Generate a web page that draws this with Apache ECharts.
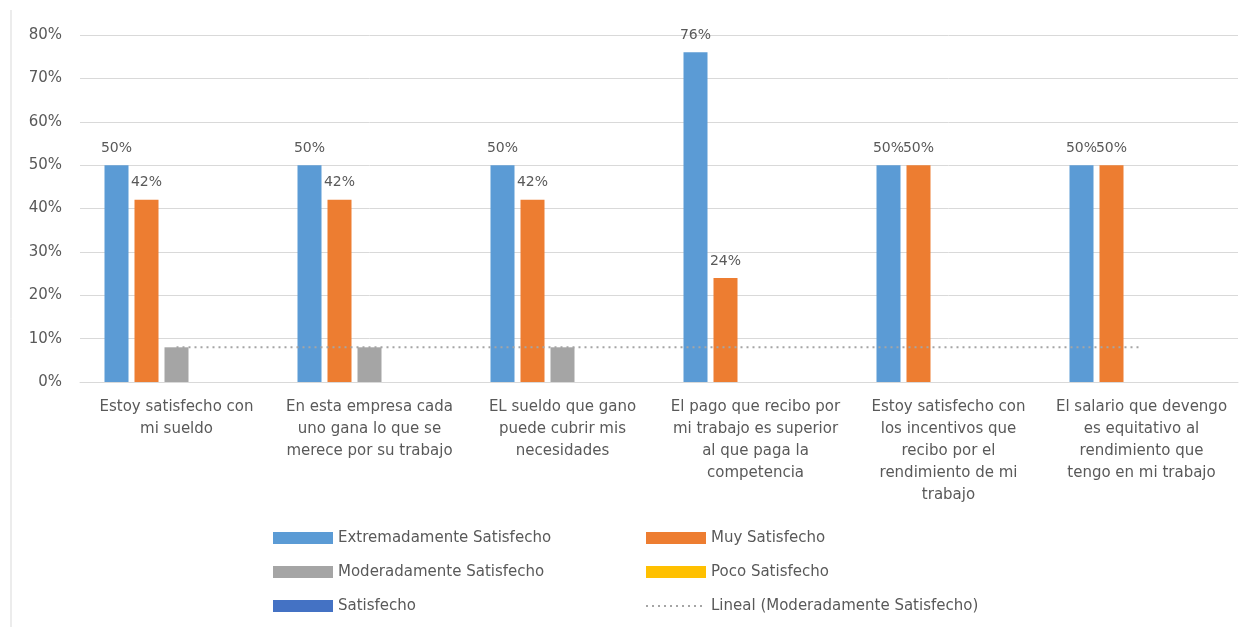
<!DOCTYPE html>
<html>
<head>
<meta charset="utf-8">
<script src="https://cdn.jsdelivr.net/npm/echarts@6/dist/echarts.min.js"></script>
<style>
  html, body { margin: 0; padding: 0; background: #fff; }
  #chart { width: 1246px; height: 627px; }
</style>
</head>
<body>
<div id="chart"></div>
<script>
// Survey items (x-axis categories)
const categories = [
  'Estoy satisfecho con\nmi sueldo',
  'En esta empresa cada\nuno gana lo que se\nmerece por su trabajo',
  'EL sueldo que gano\npuede cubrir mis\nnecesidades',
  'El pago que recibo por\nmi trabajo es superior\nal que paga la\ncompetencia',
  'Estoy satisfecho con\nlos incentivos que\nrecibo por el\nrendimiento de mi\ntrabajo',
  'El salario que devengo\nes equitativo al\nrendimiento que\ntengo en mi trabajo'
];

// Percent of responses per satisfaction level
const extremadamente = [50, 50, 50, 76, 50, 50];
const muy = [42, 42, 42, 24, 50, 50];
const moderadamente = [8, 8, 8, null, null, null];
const poco = [null, null, null, null, null, null];
const satisfecho = [null, null, null, null, null, null];

// Y-axis tick values (percent)
const yTicks = [0, 10, 20, 30, 40, 50, 60, 70, 80];

// Least-squares linear trend over the non-empty points of a series
function linearTrend(values) {
  const pts = values.map((v, i) => [i, v]).filter(p => p[1] != null);
  const n = pts.length;
  const sx = pts.reduce((a, p) => a + p[0], 0);
  const sy = pts.reduce((a, p) => a + p[1], 0);
  const sxx = pts.reduce((a, p) => a + p[0] * p[0], 0);
  const sxy = pts.reduce((a, p) => a + p[0] * p[1], 0);
  const den = n * sxx - sx * sx;
  const slope = den === 0 ? 0 : (n * sxy - sx * sy) / den;
  const intercept = (sy - slope * sx) / n;
  return values.map((_, i) => +(intercept + slope * i).toFixed(4));
}
const tendencia = linearTrend(moderadamente);

const FONT = 'DejaVu Sans';
const TXT = '#595959';
const TREND_NAME = 'Lineal (Moderadamente Satisfecho)';

const labelStyle = {
  show: true,
  position: 'top',
  distance: 10,
  formatter: p => p.value + '%',
  color: TXT,
  fontFamily: FONT,
  fontSize: 14
};

const legendBase = {
  orient: 'vertical',
  top: 523,
  itemWidth: 60,
  itemHeight: 12,
  itemGap: 14,
  textStyle: { color: TXT, fontFamily: FONT, fontSize: 15, lineHeight: 20 }
};

const chart = echarts.init(document.getElementById('chart'), null, { renderer: 'canvas' });

chart.setOption({
  animation: false,
  backgroundColor: '#ffffff',
  textStyle: { fontFamily: FONT, color: TXT },
  grid: { left: 80, right: 8, top: 35, bottom: 245, containLabel: false },
  graphic: [{
    type: 'line',
    shape: { x1: 11, y1: 10, x2: 11, y2: 627 },
    style: { stroke: '#d9d9d9', lineWidth: 1 }
  }],
  legend: [
    Object.assign({}, legendBase, {
      left: 268,
      data: [
        { name: 'Extremadamente Satisfecho', icon: 'rect' },
        { name: 'Moderadamente Satisfecho', icon: 'rect' },
        { name: 'Satisfecho', icon: 'rect' }
      ]
    }),
    Object.assign({}, legendBase, {
      left: 640,
      data: [
        { name: 'Muy Satisfecho', icon: 'rect' },
        { name: 'Poco Satisfecho', icon: 'rect' },
        { name: TREND_NAME, itemStyle: { opacity: 0 } }
      ]
    })
  ],
  xAxis: {
    type: 'category',
    data: categories,
    axisLine: { show: true, lineStyle: { color: '#d9d9d9' } },
    axisTick: { show: false },
    axisLabel: {
      interval: 0,
      color: TXT,
      fontFamily: FONT,
      fontSize: 15,
      lineHeight: 22,
      margin: 14
    }
  },
  yAxis: {
    type: 'value',
    min: yTicks[0],
    max: yTicks[yTicks.length - 1],
    interval: yTicks[1] - yTicks[0],
    axisLine: { show: false },
    axisTick: { show: false },
    splitLine: { lineStyle: { color: '#d9d9d9', width: 1 } },
    axisLabel: {
      formatter: '{value}%',
      color: TXT,
      fontFamily: FONT,
      fontSize: 15,
      margin: 18
    }
  },
  series: [
    {
      name: 'Extremadamente Satisfecho',
      type: 'bar',
      data: extremadamente,
      itemStyle: { color: '#5B9BD5' },
      barWidth: 24,
      barGap: '25%',
      label: labelStyle
    },
    {
      name: 'Muy Satisfecho',
      type: 'bar',
      data: muy,
      itemStyle: { color: '#ED7D31' },
      barWidth: 24,
      barGap: '25%',
      label: labelStyle
    },
    {
      name: 'Moderadamente Satisfecho',
      type: 'bar',
      data: moderadamente,
      itemStyle: { color: '#A5A5A5' },
      barWidth: 24,
      barGap: '25%'
    },
    {
      name: 'Poco Satisfecho',
      type: 'bar',
      data: poco,
      itemStyle: { color: '#FFC000' },
      barWidth: 24,
      barGap: '25%'
    },
    {
      name: 'Satisfecho',
      type: 'bar',
      data: satisfecho,
      itemStyle: { color: '#4472C4' },
      barWidth: 24,
      barGap: '25%'
    },
    {
      name: TREND_NAME,
      type: 'line',
      data: tendencia,
      symbol: 'none',
      z: 5,
      lineStyle: { color: '#A5A5A5', width: 2, type: [2, 4] },
      itemStyle: { color: '#A5A5A5' }
    }
  ]
});
</script>
</body>
</html>
